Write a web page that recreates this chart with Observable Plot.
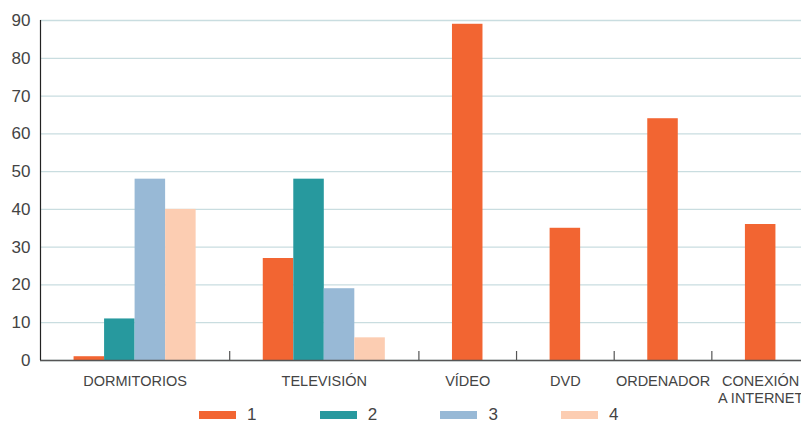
<!DOCTYPE html>
<html><head><meta charset="utf-8">
<script src="https://cdn.jsdelivr.net/npm/d3@7"></script>
<script src="https://cdn.jsdelivr.net/npm/@observablehq/plot@0.6"></script>
<style>
body{margin:0;background:#fff;font-family:"Liberation Sans",Arial,sans-serif}
#legend{display:flex;padding-left:199px;padding-top:5px;height:12px}
.item{display:flex;align-items:center;width:120.7px;font-size:17px;color:#444;line-height:12px;height:12px}
.sw{width:37px;height:8px;margin-right:11px}
</style></head><body><div id="chart"></div><div id="legend"></div>
<script>
const categories = ["DORMITORIOS", "TELEVISIÓN", "VÍDEO", "DVD", "ORDENADOR", "CONEXIÓN\nA INTERNET"];
const seriesNames = ["1", "2", "3", "4"];
const colors = ["#f26532", "#27999e", "#98b9d6", "#fccdb2"];
const s1 = [1, 27, 89, 35, 64, 36];
const s2 = [11, 48, null, null, null, null];
const s3 = [48, 19, null, null, null, null];
const s4 = [40, 6, null, null, null, null];
const yTicks = [0, 10, 20, 30, 40, 50, 60, 70, 80, 90];

const seriesValues = [s1, s2, s3, s4];
const gap = 2.2;
let cursor = 0;
const bars = [], cats = [], bounds = [];
categories.forEach((c, i) => {
  const present = seriesValues.map((s, k) => ({k, v: s[i]})).filter(d => d.v != null);
  const start = cursor, w = present.length + gap;
  present.forEach((d, j) => bars.push({cat: c, series: seriesNames[d.k], value: d.v,
    x1: start + gap / 2 + j, x2: start + gap / 2 + j + 1}));
  cats.push({label: c, x: start + w / 2});
  cursor += w;
  bounds.push(cursor);
});

const chart = Plot.plot({
  width: 801, height: 404,
  marginLeft: 40, marginRight: 0, marginTop: 20, marginBottom: 44,
  style: {fontFamily: "'Liberation Sans', Arial, sans-serif", background: "white", color: "#444"},
  x: {domain: [0, cursor], range: [40, 809], axis: null},
  y: {domain: [0, 90], axis: null},
  color: {domain: seriesNames, range: colors},
  marks: [
    Plot.gridY(yTicks, {stroke: "#c9dde0", strokeOpacity: 1, strokeWidth: 1.3}),
    Plot.rectY(bars, {x1: "x1", x2: "x2", y: "value", fill: "series"}),
    Plot.ruleY([0], {stroke: "#555", strokeWidth: 1.5}),
    Plot.ruleX(bounds, {x: d => d, y1: 0, y2: 0, insetTop: -9, stroke: "#555", strokeWidth: 1.2}),
    Plot.ruleX([0], {stroke: "#222", strokeWidth: 1.2}),
    Plot.axisY({ticks: yTicks, tickSize: 0, tickPadding: 10, fontSize: 17, anchor: "left", label: null}),
    Plot.text(cats, {x: "x", y: 0, text: "label", dy: 13, lineAnchor: "top", fontSize: 14.5, lineHeight: 1.17, fill: "#444"})
  ]
});
document.getElementById("chart").append(chart);

const legend = document.getElementById("legend");
seriesNames.forEach((n, i) => {
  const item = document.createElement("div");
  item.className = "item";
  const sw = document.createElement("span");
  sw.className = "sw";
  sw.style.background = colors[i];
  const lab = document.createElement("span");
  lab.textContent = n;
  item.append(sw, lab);
  legend.append(item);
});
</script>
</body></html>
